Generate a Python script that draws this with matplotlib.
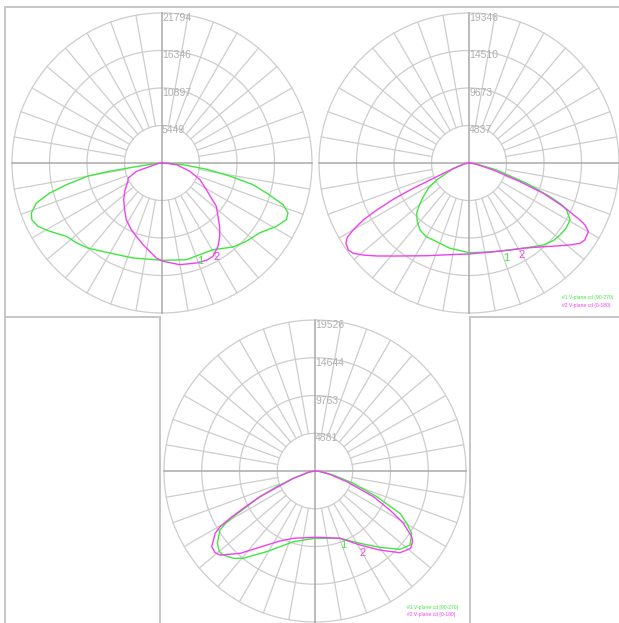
import numpy as np
import matplotlib
matplotlib.use('Agg')
import matplotlib.pyplot as plt
from matplotlib.lines import Line2D

W, H, DPI = 619, 623, 100

# ---------------- data (gamma angle in degrees from nadir, left side negative; intensity in cd)
p1_rings = [5449, 10897, 16346, 21794]
p1_c90_ang = [-90, -84, -82, -81, -80, -77.2, -75, -72.3, -69, -66.4, -62.9, -58.7, -52.5, -47, -41, -30, -17, 0,
              14.1, 30.5, 40.2, 47.1, 54.4, 61, 65.5, 68.4, 71, 74, 76.6, 79, 82, 85, 88, 90]
p1_c90_cd = [0, 1160, 3630, 7990, 10900, 14240, 16900, 19180, 20340, 20630, 20220, 19090, 17510, 17000, 16380, 15110, 14430, 14140,
             14490, 14620, 15980, 16720, 17440, 18990, 19850, 19700, 18600, 15780, 13590, 10170, 6540, 3200, 870, 0]
p1_c0_ang = [-90, -82, -72, -66, -62, -54, -46.3, -38.7, -32.2, -24.7, -19.3, -13.1, -7.9, -3.4, 0.6, 9.9, 18.9, 24.5,
             28.6, 33.9, 38.2, 42.3, 51.4, 59, 66.3, 73.5, 83, 86, 90]
p1_c0_cd = [0, 580, 3870, 5380, 5610, 6630, 7700, 8690, 9740, 10670, 11290, 12180, 12960, 13830, 14280, 15000, 15360, 15550,
            15450, 14590, 13560, 12440, 10100, 7510, 6030, 4210, 2180, 730, 0]

p2_rings = [4837, 9673, 14510, 19346]
p2_c90_ang = [-90, -80, -71, -62.3, -58.1, -53.6, -49.8, -46.1, -41.4, -36.2, -30.3, -24.8, -12.6, 0,
              15.3, 32.5, 42.2, 47.4, 51.6, 56, 60.6, 64.3, 66.1, 67.4, 70.6, 75.8, 82, 90]
p2_c90_cd = [0, 640, 2140, 4710, 6180, 7310, 8400, 9360, 10090, 10700, 11000, 10950, 11270, 11570,
             11870, 13030, 14280, 14780, 14960, 15090, 14960, 13980, 12830, 11310, 7880, 3680, 1030, 0]
p2_c0_ang = [-90, -80, -72, -68, -66.2, -65.4, -64.4, -63, -61.7, -60, -58.6, -56.9, -54.2, -52, -48.9, -44.8, -39.1,
             -32.4, -24.5, -15.6, -7.7, 0, 15.3, 25.2, 32.5, 41.6, 46.6, 50.9, 54.1, 56.4, 60.1, 61.9, 62.8, 65.2,
             67.8, 70.4, 73.9, 80, 85, 90]
p2_c0_cd = [0, 520, 1550, 3570, 5970, 8370, 10820, 13360, 15480, 17240, 18390, 18950, 19190, 18920, 18070, 16900, 15460,
            14190, 13140, 12320, 11890, 11740, 11870, 12410, 13030, 14440, 15570, 16770, 17670, 17930, 17760, 16960, 16100, 13410,
            10360, 6530, 3260, 1030, 390, 0]

p3_rings = [4881, 9763, 14644, 19526]
p3_c90_ang = [-90, -80, -71.3, -67.8, -65, -62.4, -60.8, -59.5, -58.2, -53.5, -49.9, -47.5, -43.1, -39.4, -30.9, -24.8, -17, 0,
              20.4, 31.9, 40.4, 47.3, 52.1, 57.2, 60.3, 63.5, 67.4, 72.2, 77.7, 84, 90]
p3_c90_cd = [0, 780, 2960, 5350, 7850, 9970, 12100, 13500, 14460, 15710, 16180, 16070, 15460, 14610, 12150, 10780, 9560, 8700,
             9280, 11020, 12970, 14950, 15570, 14870, 13650, 12280, 8640, 5210, 2430, 650, 0]
p3_c0_ang = [-90, -80, -71.3, -65, -62.5, -60.9, -59.6, -58, -53.8, -50.8, -48.5, -42.3, -33.1, -26.6, -17.8, 0,
             20.4, 31.3, 39.4, 46.1, 51, 54.1, 55.8, 59.4, 62.5, 66.3, 71.4, 78, 85, 90]
p3_c0_cd = [0, 780, 2960, 7850, 10450, 12580, 14240, 15230, 16550, 16690, 16400, 14400, 11430, 10120, 9140, 8570,
            9280, 11200, 13230, 15240, 15900, 15580, 15120, 13280, 10930, 8240, 4320, 1810, 520, 0]

legend_p2 = ['#1 V-plane cd (90-270)', '#2 V-plane cd (0-180)']
legend_p3 = ['#1 V-plane cd [90-270]', '#2 V-plane cd [0-180]']

GREEN = '#3fe83f'
MAGENTA = '#f23ff2'
GRID = '#cdcdcd'
AXIS = '#a9a9a9'
LABEL = '#b0b0b0'
FRAME = '#c6c6c6'

plt.rcParams['font.family'] = ['Liberation Sans', 'DejaVu Sans']
fig = plt.figure(figsize=(W / DPI, H / DPI), dpi=DPI)
fig.patch.set_facecolor('white')


def px(x, y):
    return x / W, 1 - y / H


def panel(cx, cy, R, rings, c90, c0, lab1, lab2, legend=None, legpos=None):
    rmax = rings[-1]
    ax = fig.add_axes([(cx - R) / W, 1 - (cy + R) / H, 2 * R / W, 2 * R / H], projection='polar')
    ax.set_theta_zero_location('S')
    ax.set_ylim(0, rmax)
    ax.axis('off')
    th = np.linspace(0, 2 * np.pi, 721)
    for r in rings:
        ax.plot(th, np.full_like(th, r), color=GRID, lw=0.9, clip_on=False, zorder=1)
    for d in range(0, 360, 10):
        if d % 90 == 0:
            continue
        t = np.deg2rad(d)
        ax.plot([t, t], [rings[0], rmax], color=GRID, lw=0.9, clip_on=False, zorder=1)
    for d in (0, 90, 180, 270):
        t = np.deg2rad(d)
        ax.plot([t, t], [0, rmax], color=AXIS, lw=1.1, clip_on=False, zorder=2)
    for r in rings:
        ax.text(np.pi, r, str(r), color=LABEL, fontsize=7.5, ha='left', va='top', zorder=2)
    ax.plot(np.deg2rad(c90[0]), c90[1], color=GREEN, lw=1.0, clip_on=False, zorder=4)
    ax.plot(np.deg2rad(c0[0]), c0[1], color=MAGENTA, lw=1.0, clip_on=False, zorder=5)
    ax.text(np.deg2rad(lab1[0]), lab1[1], '1', color=GREEN, fontsize=8, ha='center', va='center', zorder=6)
    ax.text(np.deg2rad(lab2[0]), lab2[1], '2', color=MAGENTA, fontsize=8, ha='center', va='center', zorder=6)
    if legend:
        x, y = legpos
        fig.text(*px(x, y), legend[0], color=GREEN, fontsize=3.6, ha='left', va='center')
        fig.text(*px(x, y + 7.5), legend[1], color=MAGENTA, fontsize=3.6, ha='left', va='center')
    return ax


panel(162, 163, 150, p1_rings, (p1_c90_ang, p1_c90_cd), (p1_c0_ang, p1_c0_cd),
      (21.2, 15260), (30.3, 15840))
panel(469, 163, 150, p2_rings, (p2_c90_ang, p2_c90_cd), (p2_c0_ang, p2_c0_cd),
      (21.3, 13150), (29.9, 13690), legend_p2, (562, 298))
panel(315, 471, 151, p3_rings, (p3_c90_ang, p3_c90_cd), (p3_c0_ang, p3_c0_cd),
      (20.7, 10220), (30.3, 12280), legend_p3, (407, 607))

# frame lines
frame = [((5, 7), (619, 7)), ((5, 7), (5, 623)), ((5, 317), (160, 317)), ((470, 317), (619, 317)),
         ((160, 317), (160, 623)), ((470, 317), (470, 623))]
for (x0, y0), (x1, y1) in frame:
    a, b = px(x0, y0)
    c, d = px(x1, y1)
    fig.add_artist(Line2D([a, c], [b, d], color=FRAME, lw=1.4, transform=fig.transFigure))

fig.savefig('out.png', dpi=DPI, facecolor='white')
